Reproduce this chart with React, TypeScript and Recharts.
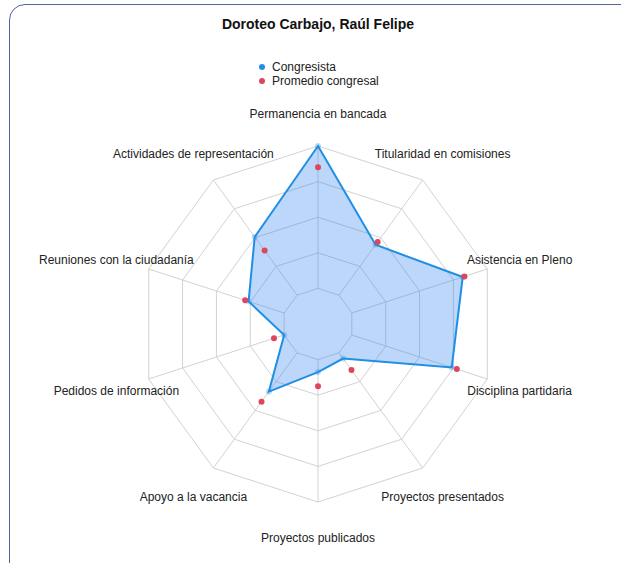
import { RadarChart, Radar, PolarGrid, PolarAngleAxis, PolarRadiusAxis, Legend } from 'recharts';

const categories = [
  'Permanencia en bancada',
  'Titularidad en comisiones',
  'Asistencia en Pleno',
  'Disciplina partidaria',
  'Proyectos presentados',
  'Proyectos publicados',
  'Apoyo a la vacancia',
  'Pedidos de información',
  'Reuniones con la ciudadanía',
  'Actividades de representación',
];

const congresista = [100, 55, 85.5, 79, 24, 27, 47, 20, 41, 60.5];
const promedio = [88, 57, 86.5, 82, 32, 35, 54, 26, 43, 51];

// rings at 20..100; the innermost ring sits at 20 (spokes start there)
const ringMin = 20;
const ringMax = 100;

const seriesNames = ['Congresista', 'Promedio congresal'];
const seriesColors = ['#1f8fe6', '#e0455e'];

const data = categories.map((name, i) => ({
  name,
  Congresista: congresista[i],
  Promedio: promedio[i],
}));

const FONT = '"Liberation Sans", Arial, sans-serif';
const OUTER = 178;

const AngleTick = (props: any) => {
  const { x, y, payload } = props;
  return (
    <text
      x={x}
      y={y}
      dy={1.5}
      textAnchor="middle"
      dominantBaseline="central"
      fontSize={12}
      fontFamily={FONT}
      fill="#222"
    >
      {payload.value}
    </text>
  );
};

const renderLegend = () => (
  <div style={{ fontFamily: FONT, fontSize: 12, color: '#222', lineHeight: '14px' }}>
    {seriesNames.map((n, i) => (
      <div key={n} style={{ display: 'flex', alignItems: 'center' }}>
        <span
          style={{
            width: 6,
            height: 6,
            borderRadius: 3,
            background: seriesColors[i],
            display: 'inline-block',
            marginRight: 7,
          }}
        />
        {n}
      </div>
    ))}
  </div>
);

export default function App() {
  return (
    <div style={{ position: 'absolute', left: 0, top: 0, width: 621, height: 563, overflow: 'hidden', background: '#fff' }}>
      <div
        style={{
          position: 'absolute',
          left: 9,
          top: 4,
          width: 640,
          height: 600,
          border: '1.5px solid #50649e',
          borderRadius: 16,
        }}
      />
      <div
        style={{
          position: 'absolute',
          left: 0,
          width: 636,
          top: 16,
          textAlign: 'center',
          fontFamily: FONT,
          fontWeight: 'bold',
          fontSize: 14,
          color: '#111',
        }}
      >
        Doroteo Carbajo, Raúl Felipe
      </div>
      <div style={{ position: 'absolute', left: 0, top: 0 }}>
        <RadarChart
          width={621}
          height={563}
          data={data}
          cx={318}
          cy={324}
          outerRadius={OUTER}
          innerRadius={(OUTER * ringMin) / ringMax}
        >
          <PolarGrid gridType="polygon" stroke="#d2d2d2" strokeWidth={1} />
          <PolarRadiusAxis domain={[ringMin, ringMax]} tickCount={5} tick={false} axisLine={false} />
          <PolarAngleAxis
            dataKey="name"
            tick={<AngleTick />}
            tickLine={false}
            tickSize={34}
            axisLine={false}
          />
          <Legend
            content={renderLegend}
            wrapperStyle={{ position: 'absolute', left: 259, top: 60, width: 'auto' }}
          />
          <Radar
            name="Congresista"
            dataKey="Congresista"
            stroke={seriesColors[0]}
            strokeWidth={2}
            fill="#267aee"
            fillOpacity={0.3}
            dot={{ r: 3, fill: seriesColors[0], stroke: 'none' }}
            isAnimationActive={false}
          />
          <Radar
            name="Promedio congresal"
            dataKey="Promedio"
            stroke="none"
            fill="none"
            dot={{ r: 3, fill: seriesColors[1], stroke: 'none', fillOpacity: 1 }}
            isAnimationActive={false}
          />
        </RadarChart>
      </div>
    </div>
  );
}
